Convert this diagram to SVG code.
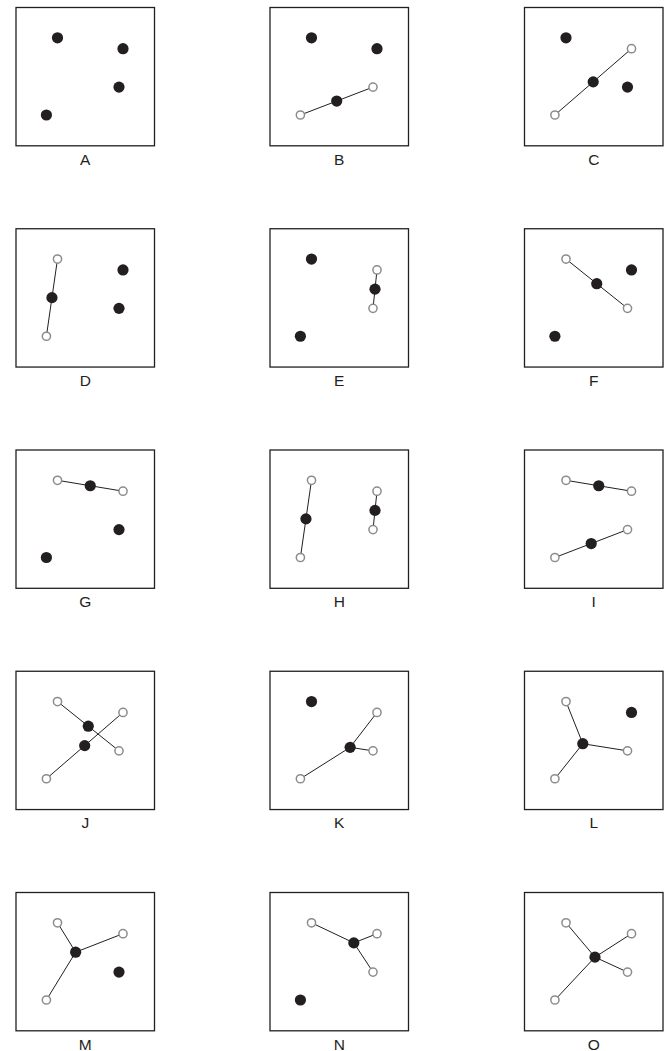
<svg xmlns="http://www.w3.org/2000/svg" width="669" height="1051" viewBox="0 0 669 1051">
<style>
.box{fill:#fff;stroke:#231f20;stroke-width:1.3}
.ln{stroke:#231f20;stroke-width:1;fill:none}
.op{fill:#fff;stroke:#8c8c8c;stroke-width:1.5}
.bk{fill:#231f20}
.lb{font-family:"Liberation Sans",Arial,sans-serif;font-size:15.5px;fill:#231f20;text-anchor:middle}
</style>
<defs>
<circle id="b" r="5.6" class="bk"/>
<circle id="o" r="4.1" class="op"/>
</defs>
<rect width="669" height="1051" fill="#fff"/>
<!-- boxes -->
<g id="boxes">
<rect class="box" x="16" y="7.5" width="138.5" height="138.3"/>
<rect class="box" x="270" y="7.5" width="138.5" height="138.3"/>
<rect class="box" x="524.5" y="7.5" width="138.5" height="138.3"/>
<rect class="box" x="16" y="228.75" width="138.5" height="138.3"/>
<rect class="box" x="270" y="228.75" width="138.5" height="138.3"/>
<rect class="box" x="524.5" y="228.75" width="138.5" height="138.3"/>
<rect class="box" x="16" y="450" width="138.5" height="138.3"/>
<rect class="box" x="270" y="450" width="138.5" height="138.3"/>
<rect class="box" x="524.5" y="450" width="138.5" height="138.3"/>
<rect class="box" x="16" y="671.25" width="138.5" height="138.3"/>
<rect class="box" x="270" y="671.25" width="138.5" height="138.3"/>
<rect class="box" x="524.5" y="671.25" width="138.5" height="138.3"/>
<rect class="box" x="16" y="892.5" width="138.5" height="138.3"/>
<rect class="box" x="270" y="892.5" width="138.5" height="138.3"/>
<rect class="box" x="524.5" y="892.5" width="138.5" height="138.3"/>
</g>
<!-- connectors -->
<g id="connectors" class="ln">
<g transform="translate(270,7.5)"><line x1="103" y1="79.6" x2="66.7" y2="93.55"/><line x1="30.4" y1="107.5" x2="66.7" y2="93.55"/></g>
<g transform="translate(524.5,7.5)"><line x1="107" y1="41.2" x2="30.4" y2="107.5"/></g>
<g transform="translate(16,228.75)"><line x1="41.5" y1="30.3" x2="30.4" y2="107.5"/></g>
<g transform="translate(270,228.75)"><line x1="107" y1="41.2" x2="103" y2="79.6"/></g>
<g transform="translate(524.5,228.75)"><line x1="41.5" y1="30.3" x2="103" y2="79.6"/></g>
<g transform="translate(16,450)"><line x1="41.5" y1="30.3" x2="107" y2="41.2"/></g>
<g transform="translate(270,450)"><line x1="41.5" y1="30.3" x2="30.4" y2="107.5"/><line x1="107" y1="41.2" x2="103" y2="79.6"/></g>
<g transform="translate(524.5,450)"><line x1="41.5" y1="30.3" x2="107" y2="41.2"/><line x1="103" y1="79.6" x2="30.4" y2="107.5"/></g>
<g transform="translate(16,671.25)"><line x1="41.5" y1="30.3" x2="103" y2="79.6"/><line x1="107" y1="41.2" x2="30.4" y2="107.5"/></g>
<g transform="translate(270,671.25)"><line x1="107" y1="41.2" x2="80.13" y2="76.1"/><line x1="103" y1="79.6" x2="80.13" y2="76.1"/><line x1="30.4" y1="107.5" x2="80.13" y2="76.1"/></g>
<g transform="translate(524.5,671.25)"><line x1="41.5" y1="30.3" x2="58.3" y2="72.47"/><line x1="103" y1="79.6" x2="58.3" y2="72.47"/><line x1="30.4" y1="107.5" x2="58.3" y2="72.47"/></g>
<g transform="translate(16,892.5)"><line x1="41.5" y1="30.3" x2="59.63" y2="59.67"/><line x1="107" y1="41.2" x2="59.63" y2="59.67"/><line x1="30.4" y1="107.5" x2="59.63" y2="59.67"/></g>
<g transform="translate(270,892.5)"><line x1="41.5" y1="30.3" x2="83.83" y2="50.37"/><line x1="107" y1="41.2" x2="83.83" y2="50.37"/><line x1="103" y1="79.6" x2="83.83" y2="50.37"/></g>
<g transform="translate(524.5,892.5)"><line x1="41.5" y1="30.3" x2="70.48" y2="64.65"/><line x1="107" y1="41.2" x2="70.48" y2="64.65"/><line x1="103" y1="79.6" x2="70.48" y2="64.65"/><line x1="30.4" y1="107.5" x2="70.48" y2="64.65"/></g>
</g>
<!-- panels -->
<g id="panel-A" transform="translate(16,7.5)"><use href="#b" x="41.5" y="30.3"/><use href="#b" x="107" y="41.2"/><use href="#b" x="103" y="79.6"/><use href="#b" x="30.4" y="107.5"/><text class="lb" x="69.25" y="157">A</text></g>
<g id="panel-B" transform="translate(270,7.5)"><use href="#b" x="41.5" y="30.3"/><use href="#b" x="107" y="41.2"/><use href="#o" x="103" y="79.6"/><use href="#o" x="30.4" y="107.5"/><use href="#b" x="66.7" y="93.55"/><text class="lb" x="69.25" y="157">B</text></g>
<g id="panel-C" transform="translate(524.5,7.5)"><use href="#b" x="41.5" y="30.3"/><use href="#b" x="103" y="79.6"/><use href="#o" x="107" y="41.2"/><use href="#o" x="30.4" y="107.5"/><use href="#b" x="68.7" y="74.35"/><text class="lb" x="69.25" y="157">C</text></g>
<g id="panel-D" transform="translate(16,228.75)"><use href="#b" x="107" y="41.2"/><use href="#b" x="103" y="79.6"/><use href="#o" x="41.5" y="30.3"/><use href="#o" x="30.4" y="107.5"/><use href="#b" x="35.95" y="68.9"/><text class="lb" x="69.25" y="157">D</text></g>
<g id="panel-E" transform="translate(270,228.75)"><use href="#b" x="41.5" y="30.3"/><use href="#b" x="30.4" y="107.5"/><use href="#o" x="107" y="41.2"/><use href="#o" x="103" y="79.6"/><use href="#b" x="105" y="60.4"/><text class="lb" x="69.25" y="157">E</text></g>
<g id="panel-F" transform="translate(524.5,228.75)"><use href="#b" x="107" y="41.2"/><use href="#b" x="30.4" y="107.5"/><use href="#o" x="41.5" y="30.3"/><use href="#o" x="103" y="79.6"/><use href="#b" x="72.25" y="54.95"/><text class="lb" x="69.25" y="157">F</text></g>
<g id="panel-G" transform="translate(16,450)"><use href="#b" x="103" y="79.6"/><use href="#b" x="30.4" y="107.5"/><use href="#o" x="41.5" y="30.3"/><use href="#o" x="107" y="41.2"/><use href="#b" x="74.25" y="35.75"/><text class="lb" x="69.25" y="157">G</text></g>
<g id="panel-H" transform="translate(270,450)"><use href="#o" x="41.5" y="30.3"/><use href="#o" x="30.4" y="107.5"/><use href="#o" x="107" y="41.2"/><use href="#o" x="103" y="79.6"/><use href="#b" x="35.95" y="68.9"/><use href="#b" x="105" y="60.4"/><text class="lb" x="69.25" y="157">H</text></g>
<g id="panel-I" transform="translate(524.5,450)"><use href="#o" x="41.5" y="30.3"/><use href="#o" x="107" y="41.2"/><use href="#o" x="103" y="79.6"/><use href="#o" x="30.4" y="107.5"/><use href="#b" x="74.25" y="35.75"/><use href="#b" x="66.7" y="93.55"/><text class="lb" x="69.25" y="157">I</text></g>
<g id="panel-J" transform="translate(16,671.25)"><use href="#o" x="41.5" y="30.3"/><use href="#o" x="107" y="41.2"/><use href="#o" x="103" y="79.6"/><use href="#o" x="30.4" y="107.5"/><use href="#b" x="72.25" y="54.95"/><use href="#b" x="68.7" y="74.35"/><text class="lb" x="69.25" y="157">J</text></g>
<g id="panel-K" transform="translate(270,671.25)"><use href="#b" x="41.5" y="30.3"/><use href="#o" x="107" y="41.2"/><use href="#o" x="103" y="79.6"/><use href="#o" x="30.4" y="107.5"/><use href="#b" x="80.13" y="76.1"/><text class="lb" x="69.25" y="157">K</text></g>
<g id="panel-L" transform="translate(524.5,671.25)"><use href="#b" x="107" y="41.2"/><use href="#o" x="41.5" y="30.3"/><use href="#o" x="103" y="79.6"/><use href="#o" x="30.4" y="107.5"/><use href="#b" x="58.3" y="72.47"/><text class="lb" x="69.25" y="157">L</text></g>
<g id="panel-M" transform="translate(16,892.5)"><use href="#b" x="103" y="79.6"/><use href="#o" x="41.5" y="30.3"/><use href="#o" x="107" y="41.2"/><use href="#o" x="30.4" y="107.5"/><use href="#b" x="59.63" y="59.67"/><text class="lb" x="69.25" y="157">M</text></g>
<g id="panel-N" transform="translate(270,892.5)"><use href="#b" x="30.4" y="107.5"/><use href="#o" x="41.5" y="30.3"/><use href="#o" x="107" y="41.2"/><use href="#o" x="103" y="79.6"/><use href="#b" x="83.83" y="50.37"/><text class="lb" x="69.25" y="157">N</text></g>
<g id="panel-O" transform="translate(524.5,892.5)"><use href="#o" x="41.5" y="30.3"/><use href="#o" x="107" y="41.2"/><use href="#o" x="103" y="79.6"/><use href="#o" x="30.4" y="107.5"/><use href="#b" x="70.48" y="64.65"/><text class="lb" x="69.25" y="157">O</text></g>
</svg>
